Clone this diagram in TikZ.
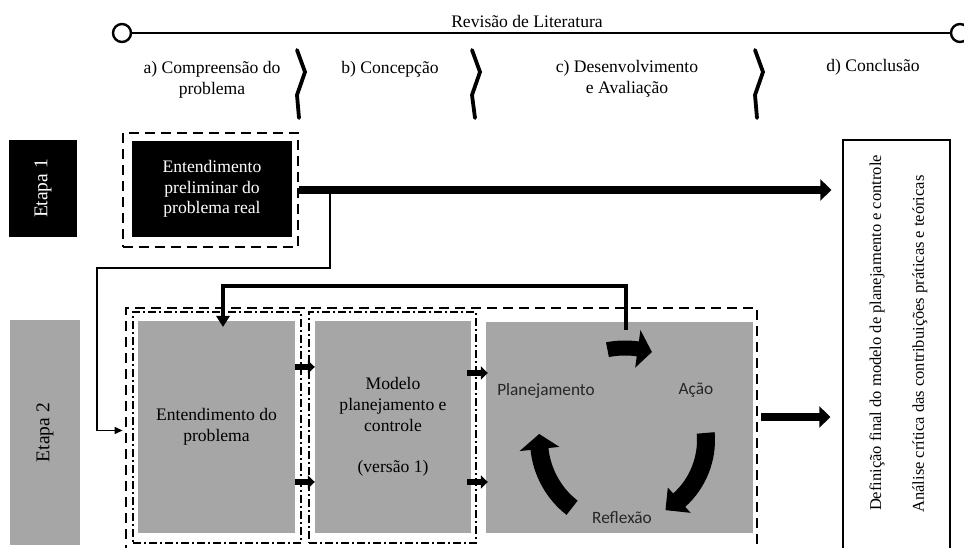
\documentclass[tikz,border=0pt]{standalone}
\usepackage{fontspec}
\setmainfont{Liberation Serif}
\newfontfamily\cyclefont{Carlito}
\usetikzlibrary{arrows.meta,calc}

\definecolor{panelgrey}{HTML}{A6A6A6}

% curved block arrow: centre, start angle, tip angle, head-base angle,
% mid radius, shaft half width, head half width
\newcommand\blockarc[7]{%
  \fill ($(#1)+(#2:{#5+#6})$)
    arc[start angle=#2, end angle=#4, radius={#5+#6}]
    -- ($(#1)+(#4:{#5+#7})$)
    -- ($(#1)+(#3:#5)$)
    -- ($(#1)+(#4:{#5-#7})$)
    -- ($(#1)+(#4:{#5-#6})$)
    arc[start angle=#4, end angle=#2, radius={#5-#6}]
    -- cycle;}

\begin{document}
\begin{tikzpicture}[x=1pt,y=1pt,
  serif/.style={font=\fontsize{17.6}{20.75}\selectfont, align=center, inner sep=0pt},
  sidetext/.style={font=\fontsize{16.5}{20}\selectfont, inner sep=0pt, rotate=90},
  stagefont/.style={font=\fontsize{19.5}{22}\selectfont},
  cyclabel/.style={font=\cyclefont\fontsize{17.3}{20}\selectfont, inner sep=0pt, text=black!85},
  plainbox/.style={rectangle, inner sep=0pt},
  dashframe/.style={plainbox, draw, line width=2.8pt, dash pattern=on 10pt off 6pt},
  dotframe/.style={plainbox, draw, line width=1.4pt, dash pattern=on 8pt off 3pt on 2pt off 3pt},
  greybox/.style={plainbox, fill=panelgrey, serif},
  endcircle/.style={circle, draw, line width=2.4pt, minimum size=18pt, inner sep=0pt, fill=white},
  bracemark/.style={line width=3.8pt, line join=round, line cap=round},
  bigarrow/.style={line width=8pt, -{Triangle[length=11pt,width=21pt]}},
  smallarrow/.style={line width=6pt, -{Triangle[length=7pt,width=13pt]}},
  fbarrow/.style={line width=4pt, -{Triangle[length=11pt,width=13pt]}},
  thinarrow/.style={line width=1.2pt, -{Triangle[length=8pt,width=7pt]}}
]
\useasboundingbox (0,0) rectangle (964,548);

% ---- literature review timeline and phases
\node[endcircle] (litL) at (122,515) {};
\node[endcircle] (litR) at (960,515) {};
\draw[line width=2.8pt] (litL) -- (litR);
\node[serif] (lit) at (527,527) {Revisão de Literatura};

\node[serif] (phaseA) at (212,468) {a) Compreensão do\\problema};
\node[serif] (phaseB) at (390,479) {b) Concepção};
\node[serif] (phaseC) at (627,469.3) {c) Desenvolvimento\\e Avaliação};
\node[serif] (phaseD) at (873,480.8) {d) Conclusão};

\draw[bracemark] (297,498) -- (305,476) -- (297,453) -- (299,430);
\draw[bracemark] (472,498) -- (480,476) -- (472,453) -- (475,430);
\draw[bracemark] (755,498) -- (763,476) -- (755,453) -- (757,430);

% ---- stage 1
\node[plainbox, fill=black, text=white, rotate=90, minimum width=97pt, minimum height=68pt,
      stagefont] (etapa1) at (43,359.5) {Etapa 1};
\node[dashframe, minimum width=175pt, minimum height=114pt] (e1frame) at (210.5,358) {};
\node[plainbox, fill=black, text=white, serif, minimum width=160pt, minimum height=96pt]
      (e1box) at (212,359) {Entendimento\\preliminar do\\problema real};

% ---- stage 2
\node[plainbox, fill=panelgrey, rotate=90, minimum width=225pt, minimum height=70pt,
      stagefont] (etapa2) at (45,115.5) {Etapa 2};
\node[dashframe, minimum width=631pt, minimum height=245pt] (outer2) at (441.5,117.5) {};
\node[dotframe, minimum width=168pt, minimum height=231pt] (dd1) at (217,120.5) {};
\node[dotframe, minimum width=167pt, minimum height=231pt] (dd2) at (392.5,120.5) {};
\node[greybox, minimum width=157pt, minimum height=212pt] (g1) at (216.5,121)
      {Entendimento do\\problema};
\node[greybox, minimum width=156pt, minimum height=212pt] (g2) at (393,121)
      {Modelo\\planejamento e\\controle\\\mbox{}\\(versão 1)};
\node[plainbox, fill=panelgrey, minimum width=267pt, minimum height=211pt] (g3) at (619.5,120.5) {};

% ---- final stage
\node[plainbox, draw, line width=1.3pt, minimum width=107pt, minimum height=413pt] (final) at (896.5,201.5) {};
\node[sidetext] (defin) at (877,215) {Definição final do modelo de planejamento e controle};
\node[sidetext] (anal) at (920,204) {Análise crítica das contribuições práticas e teóricas};

% ---- planning / action / reflection cycle
\coordinate (cycC) at (625,108);
\node[cyclabel] (plan) at (546,157.5) {Planejamento};
\node[cyclabel] (acao) at (696,158) {Ação};
\node[cyclabel] (refl) at (622,30.5) {Reflexão};
\blockarc{cycC}{101}{73}{82}{92}{7.5}{19}
\blockarc{cycC}{5}{-60}{-48}{81}{9}{17}
\blockarc{cycC}{232}{176}{186}{86}{9}{20}

% ---- connectors
\draw[bigarrow, shorten >=11pt] (e1frame.east) -- (e1frame.east -| final.west);
\coordinate (tap) at (330,358);
\draw[thinarrow, shorten >=2pt] (tap) |- (97,280) |- (outer2.west);
\draw[smallarrow] (g1.east |- 0,181) -- (g2.west |- 0,181);
\draw[smallarrow] (g1.east |- 0,66) -- (g2.west |- 0,66);
\draw[smallarrow] ([xshift=-4pt]g2.east |- 0,175) -- ([xshift=2pt]g3.west |- 0,175);
\draw[smallarrow] ([xshift=-4pt]g2.east |- 0,66) -- ([xshift=2pt]g3.west |- 0,66);
\draw[bigarrow, shorten >=12pt] ([xshift=3pt]outer2.east |- 0,131) -- (final.west |- 0,131);
\coordinate (fbstart) at (626,218);
\coordinate (fbend) at (223,221);
\draw[fbarrow] (fbstart) |- ($(fbend)+(0,41)$) -- (fbend);
\end{tikzpicture}
\end{document}
